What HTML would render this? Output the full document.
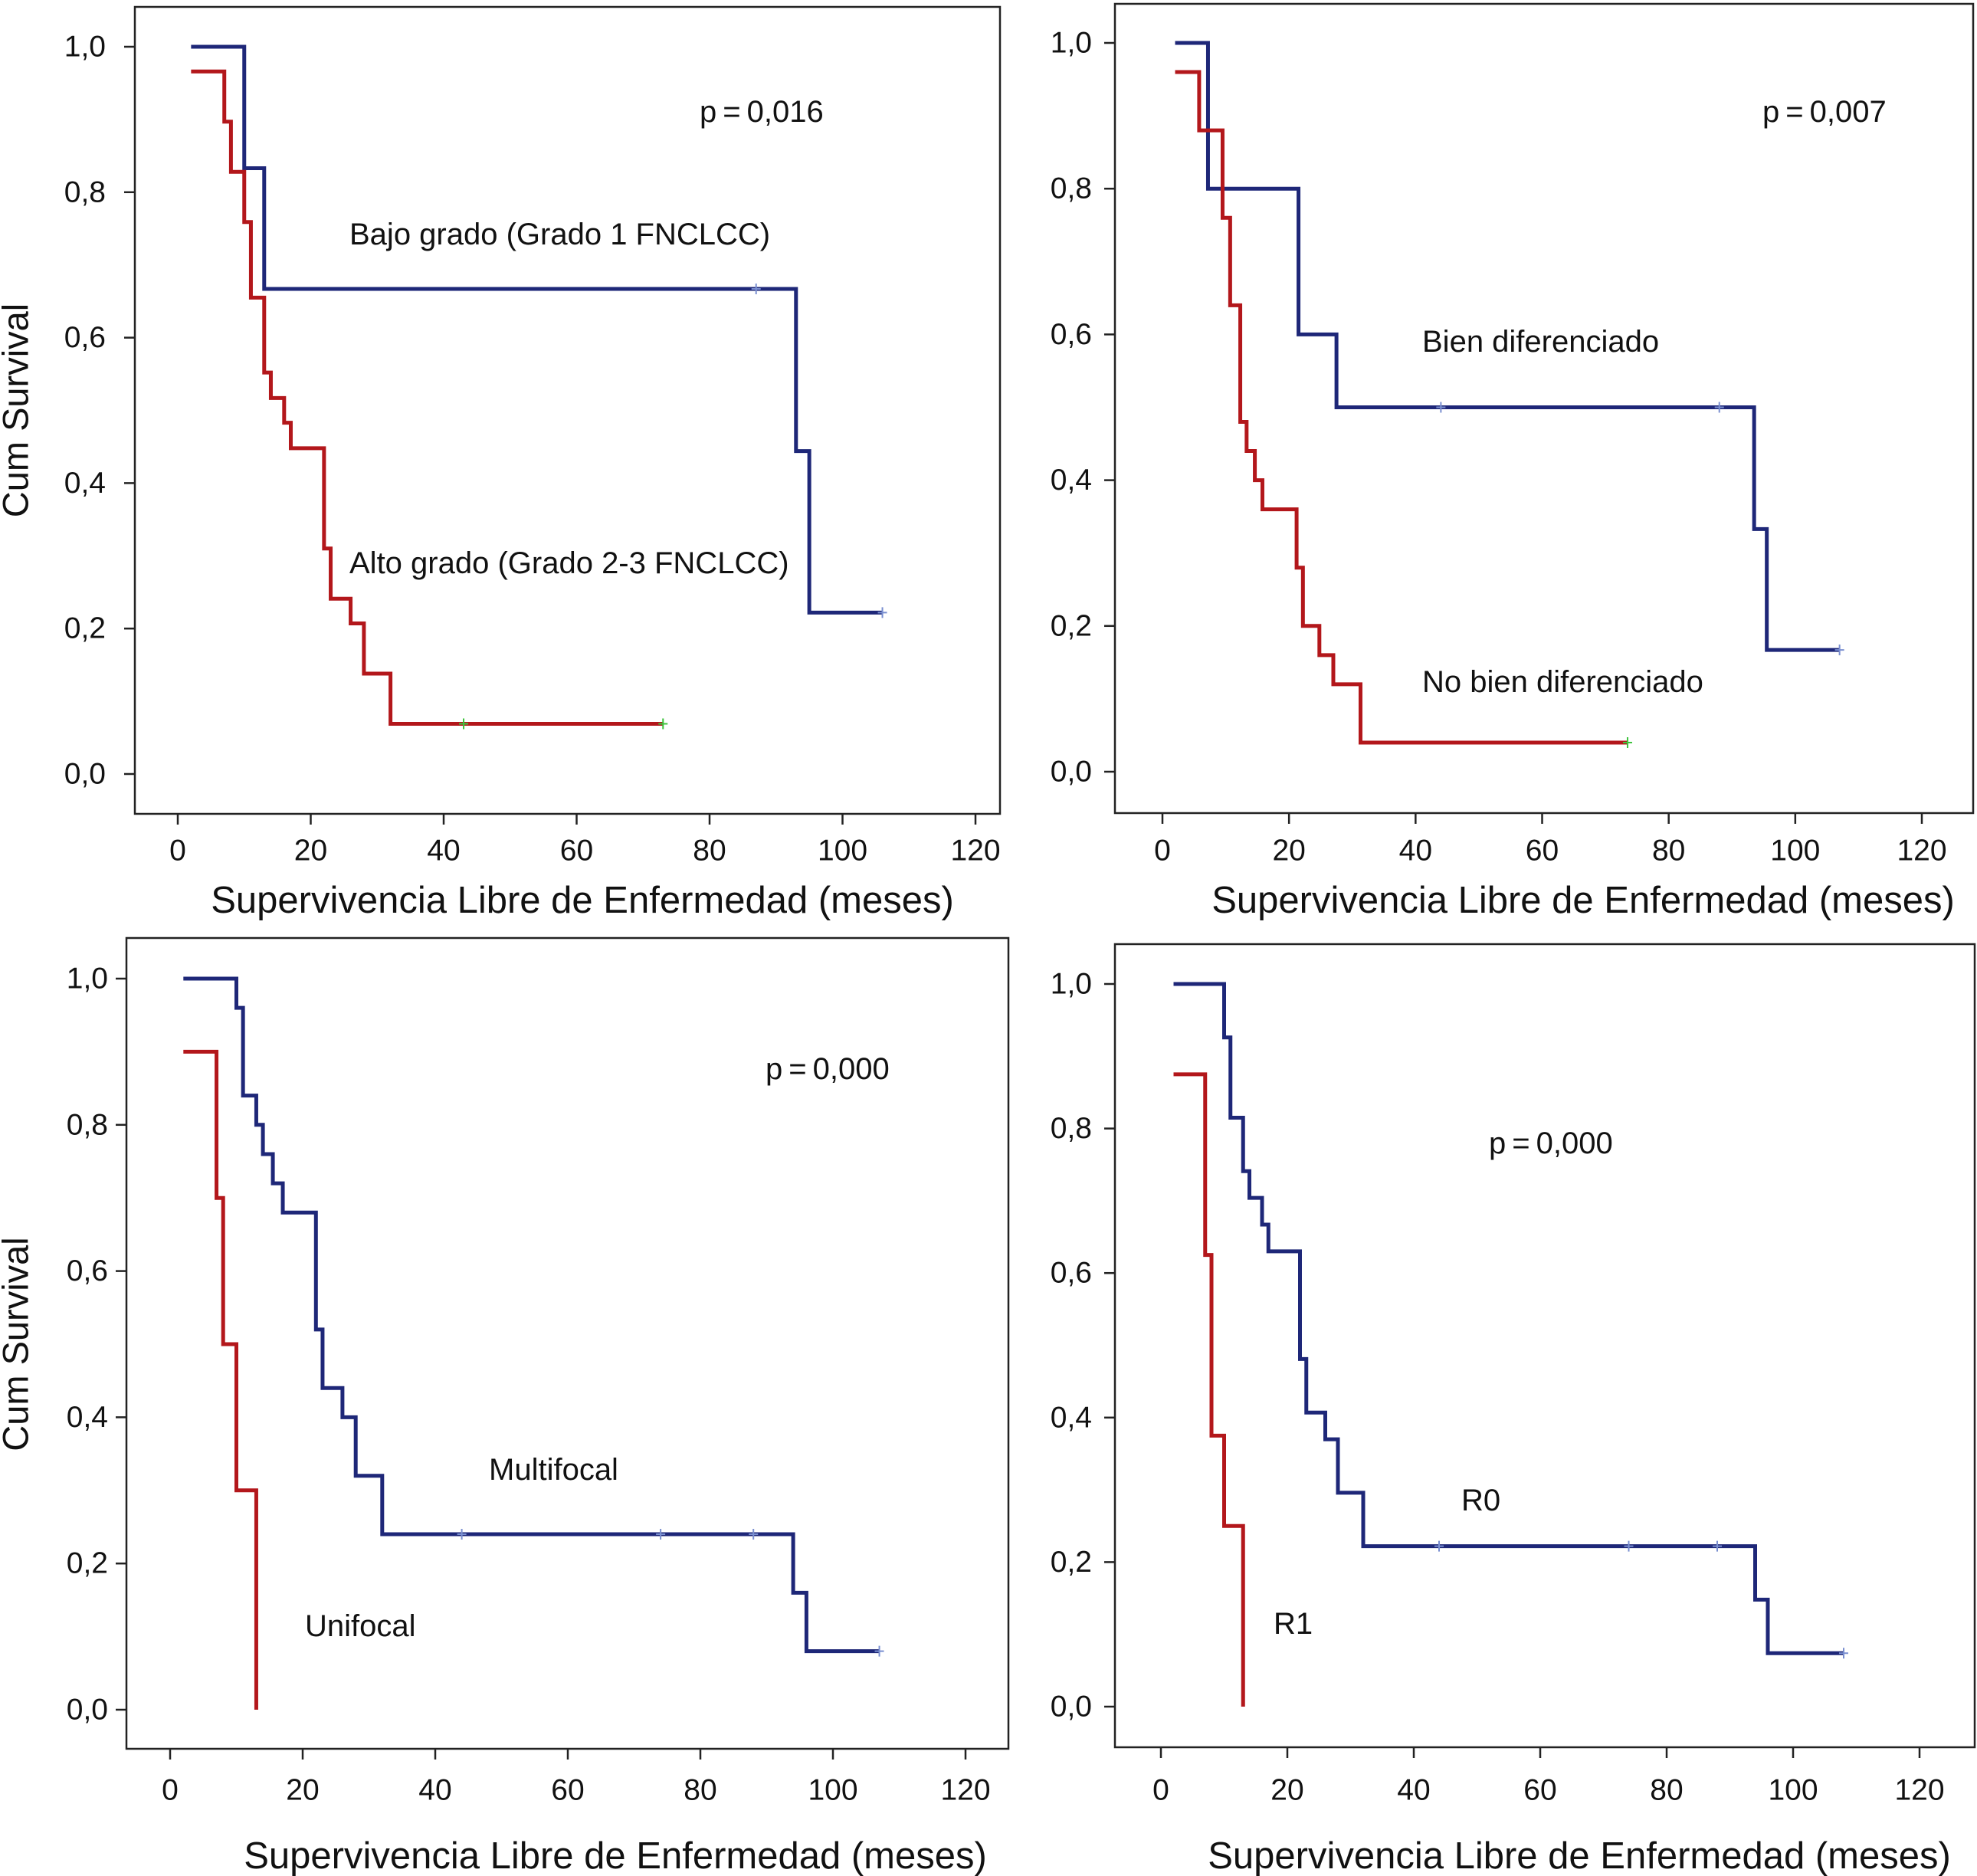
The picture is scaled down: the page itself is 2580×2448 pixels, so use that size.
<!DOCTYPE html>
<html><head><meta charset="utf-8"><style>
html,body{margin:0;padding:0;background:#fff}
svg{display:block}
text{font-family:"Liberation Sans",sans-serif;fill:#111}
</style></head><body>
<svg id="chart" width="2580" height="2448" viewBox="0 0 2580 2448" xmlns="http://www.w3.org/2000/svg"></svg>
<script>
// ---- data ----
const xTicks=[0,20,40,60,80,100,120];
const yTicks=[0,0.2,0.4,0.6,0.8,1.0];
const yTickLabels=["0,0","0,2","0,4","0,6","0,8","1,0"];
// panel 1
const p1BlueT=[2,10,13,93,95,106];
const p1BlueS=[1.0,0.833,0.667,0.444,0.222,0.222];
const p1BlueCens=[87,106];
const p1RedT=[2,7,8,10,11,13,14,16,17,22,23,26,28,32,73];
const p1RedS=[0.966,0.897,0.828,0.759,0.655,0.552,0.517,0.483,0.448,0.310,0.241,0.207,0.138,0.069,0.069];
const p1RedCens=[43,73];
// panel 2
const p2BlueT=[2,7.2,21.5,27.5,93.5,95.5,107];
const p2BlueS=[1.0,0.8,0.6,0.5,0.333,0.167,0.167];
const p2BlueCens=[44,88,107];
const p2RedT=[2,5.8,9.5,10.7,12.3,13.3,14.6,15.8,21.2,22.2,24.8,27,31.3,73.5];
const p2RedS=[0.96,0.88,0.76,0.64,0.48,0.44,0.40,0.36,0.28,0.20,0.16,0.12,0.04,0.04];
const p2RedCens=[73.5];
// panel 3
const p3BlueT=[2,10,11,13,14,15.5,17,22,23,26,28,32,94,96,107];
const p3BlueS=[1.0,0.96,0.84,0.80,0.76,0.72,0.68,0.52,0.44,0.40,0.32,0.24,0.16,0.08,0.08];
const p3BlueCens=[44,74,88,107];
const p3RedT=[2,7,8,10,13,13];
const p3RedS=[0.9,0.7,0.5,0.3,0.0,0.0];
// panel 4
const p4BlueT=[2,10,11,13,14,16,17,22,23,26,28,32,94,96,108];
const p4BlueS=[1.0,0.926,0.815,0.741,0.704,0.667,0.63,0.481,0.407,0.37,0.296,0.222,0.148,0.074,0.074];
const p4BlueCens=[44,74,88,108];
const p4RedT=[2,7,8,10,13,13];
const p4RedS=[0.875,0.625,0.375,0.25,0.0,0.0];

const NS="http://www.w3.org/2000/svg";
const svg=document.getElementById('chart');
function mk(tag,attrs,parent){const e=document.createElementNS(NS,tag);for(const k in attrs)e.setAttribute(k,attrs[k]);(parent||svg).appendChild(e);return e;}
const BLUE="#1e2778",RED="#b3171b";

const panels=[
 {id:'p1',L:176,T:9,R:1305,B:1062,x0:232,x120:1273,y0:1010,y1:61,tickY:1110,titleY:1175,titleX:760,labR:138,
  series:[[p1BlueT,p1BlueS,p1BlueCens,BLUE,'bajo-grado-curve'],[p1RedT,p1RedS,p1RedCens,RED,'alto-grado-curve']],
  notes:[['p\u2009=\u20090,016',913,146,'p-value'],['Bajo grado (Grado 1 FNCLCC)',456,306,'label-bajo-grado'],['Alto grado (Grado 2-3 FNCLCC)',456,735,'label-alto-grado']],ytitle:true},
 {id:'p2',L:1455,T:5,R:2575,B:1061,x0:1517,x120:2508,y0:1007,y1:56,tickY:1110,titleY:1175,titleX:2066,labR:1425,
  series:[[p2BlueT,p2BlueS,p2BlueCens,BLUE,'bien-diferenciado-curve'],[p2RedT,p2RedS,p2RedCens,RED,'no-bien-diferenciado-curve']],
  notes:[['p\u2009=\u20090,007',2300,146,'p-value'],['Bien diferenciado',1856,446,'label-bien-diferenciado'],['No bien diferenciado',1856,890,'label-no-bien-diferenciado']],ytitle:false},
 {id:'p3',L:165,T:1224,R:1316,B:2282,x0:222,x120:1260,y0:2231,y1:1277,tickY:2336,titleY:2422,titleX:803,labR:141,
  series:[[p3BlueT,p3BlueS,p3BlueCens,BLUE,'multifocal-curve'],[p3RedT,p3RedS,[],RED,'unifocal-curve']],
  notes:[['p\u2009=\u20090,000',999,1395,'p-value'],['Multifocal',638,1918,'label-multifocal'],['Unifocal',398,2122,'label-unifocal']],ytitle:true},
 {id:'p4',L:1455,T:1232,R:2577,B:2280,x0:1515,x120:2505,y0:2227,y1:1284,tickY:2336,titleY:2422,titleX:2061,labR:1425,
  series:[[p4BlueT,p4BlueS,p4BlueCens,BLUE,'r0-curve'],[p4RedT,p4RedS,[],RED,'r1-curve']],
  notes:[['p\u2009=\u20090,000',1943,1492,'p-value'],['R0',1907,1958,'label-r0'],['R1',1662,2119,'label-r1']],ytitle:false}
];

panels.forEach(p=>{
  const g=mk('g',{});
  
  
  const xs=v=>p.x0+(p.x120-p.x0)*v/120;
  const ys=v=>p.y0+(p.y1-p.y0)*v;
  const fr=mk('rect',{x:p.L,y:p.T,width:p.R-p.L,height:p.B-p.T,fill:'none',stroke:'#222','stroke-width':2.5},g);
  
  
  xTicks.forEach(v=>{
    mk('line',{x1:xs(v),x2:xs(v),y1:p.B,y2:p.B+14,stroke:'#222','stroke-width':2.5},g);
    const t=mk('text',{x:xs(v),y:p.tickY,'font-size':39,'text-anchor':'middle','dominant-baseline':'central'},g);
    t.textContent=v;
    
    
  });
  yTicks.forEach((v,i)=>{
    mk('line',{x1:p.L-14,x2:p.L,y1:ys(v),y2:ys(v),stroke:'#222','stroke-width':2.5},g);
    const t=mk('text',{x:p.labR,y:ys(v),'font-size':39,'text-anchor':'end','dominant-baseline':'central'},g);
    t.textContent=yTickLabels[i];
    
    
  });
  const xt=mk('text',{x:p.titleX,y:p.titleY,'font-size':49,'text-anchor':'middle','dominant-baseline':'central'},g);
  xt.textContent='Supervivencia Libre de Enfermedad (meses)';
  
  
  if(p.ytitle){
    const cy=(p.y0+p.y1)/2;
    const yt=mk('text',{x:20,y:cy,'font-size':47,'text-anchor':'middle','dominant-baseline':'central',transform:`rotate(-90 20 ${cy})`},g);
    yt.textContent='Cum Survival';
    
    
  }
  p.series.forEach(([T,S,C,col,name])=>{
    let d=`M${xs(T[0])},${ys(S[0])}`;
    for(let i=1;i<T.length;i++){d+=` H${xs(T[i])} V${ys(S[i])}`;}
    const path=mk('path',{d:d,fill:'none',stroke:col,'stroke-width':5,'stroke-linejoin':'miter'},g);
    
    
    C.forEach(c=>{
      let s=S[0];for(let i=0;i<T.length;i++){if(T[i]<=c)s=S[i];}
      const m=mk('path',{d:`M${xs(c)-6},${ys(s)} h12 M${xs(c)},${ys(s)-7} v14`,stroke:col===RED?'#3ec43e':'#7a8fd0','stroke-width':2},g);
      
      
    });
  });
  p.notes.forEach(([txt,x,y,name])=>{
    const t=mk('text',{x:x,y:y,'font-size':40,'dominant-baseline':'central'},g);
    t.textContent=txt;
    
    
  });
});
</script>
</body></html>
